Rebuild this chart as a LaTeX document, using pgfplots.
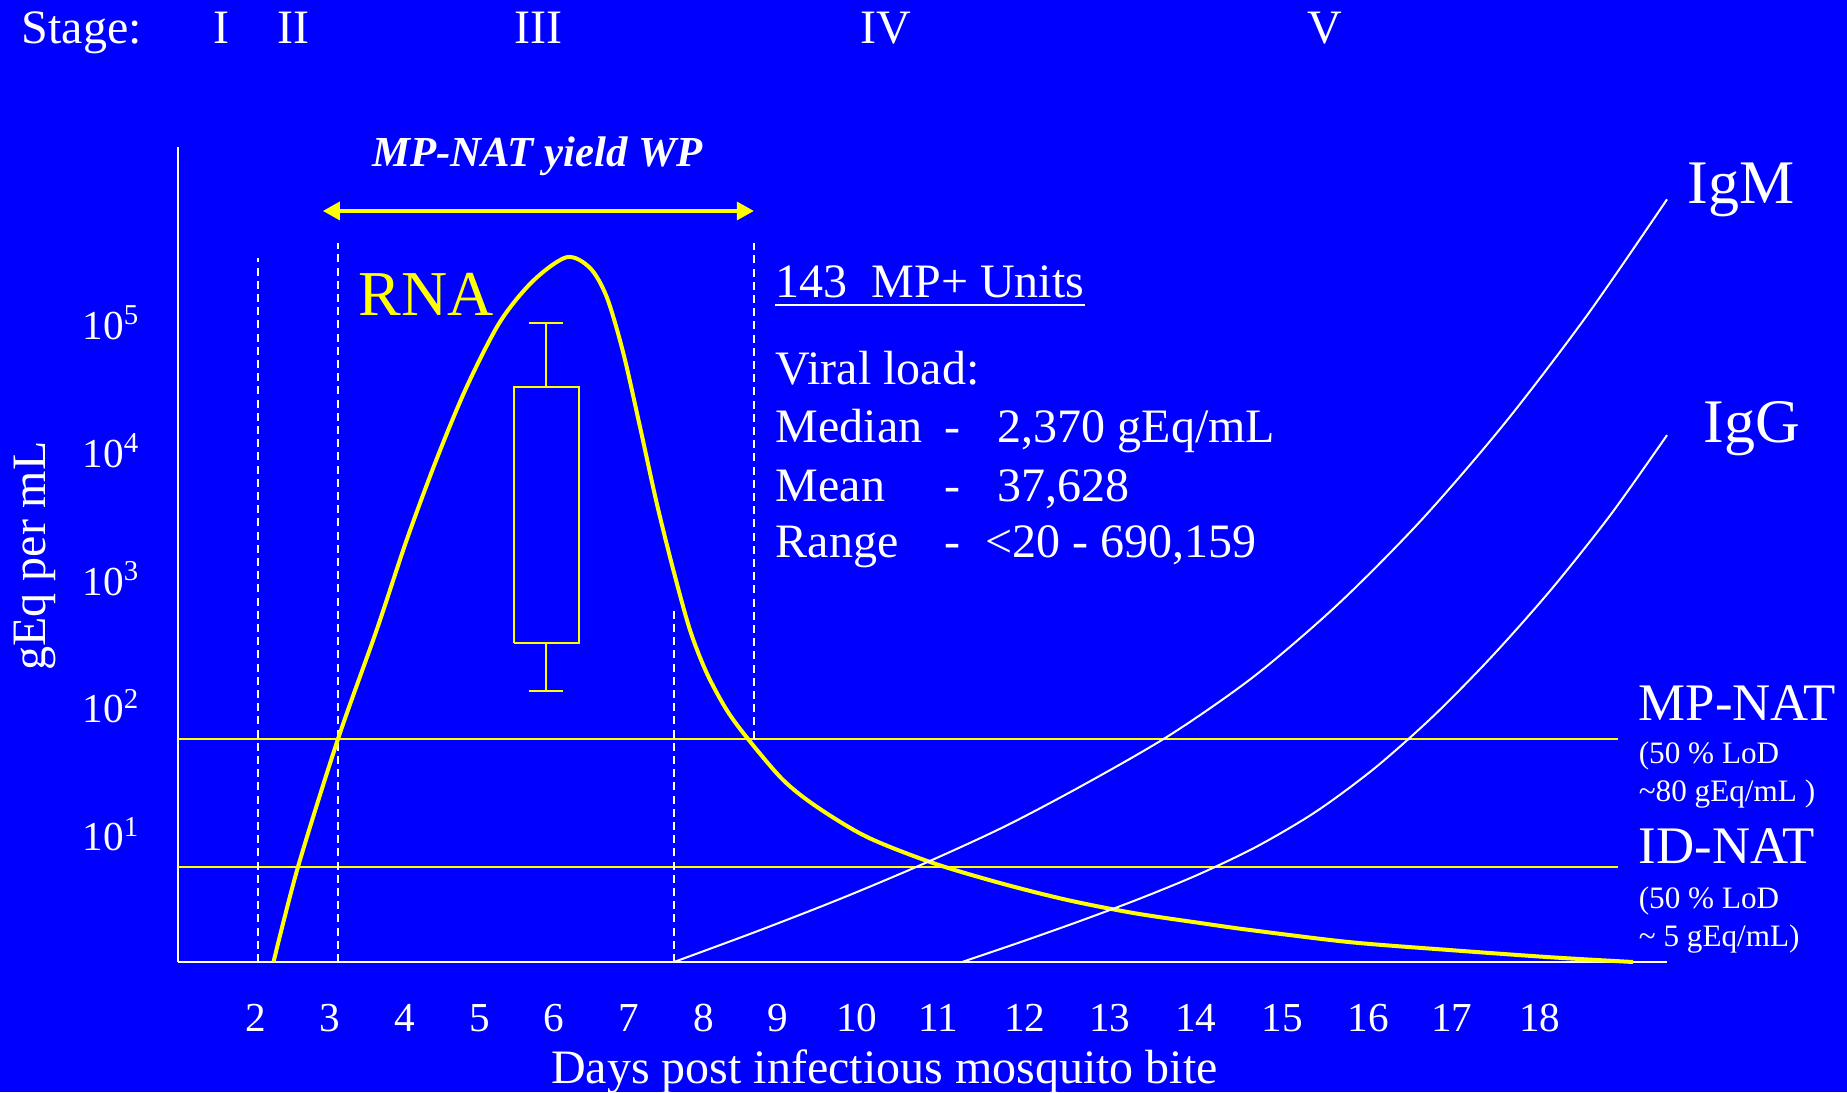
\documentclass[border=0pt]{standalone}
\usepackage{pgfplots}
\pgfplotsset{compat=1.18}
\usepackage{fontspec}
\setmainfont{Liberation Serif}
\usetikzlibrary{arrows.meta}
\definecolor{slidebg}{RGB}{0,0,255}
\definecolor{rnayellow}{RGB}{255,255,0}

\begin{document}
\begin{tikzpicture}
\fill[slidebg] (0,0) rectangle (461.75pt,273pt);
\begin{axis}[
  at={(44.5pt,32.5pt)}, anchor=south west,
  scale only axis, width=372.25pt, height=203.75pt,
  xmin=0.961, xmax=20.904,
  ymode=log, log basis y=10, ymin=1, ymax=2.38e6,
  axis x line*=bottom, axis y line*=left,
  axis line style={-, white, line width=0.7pt},
  xtick={2,3,4,5,6,7,8,9,10.05,11.14,12.3,13.44,14.59,15.75,16.9,18.02,19.2},
  xticklabels={2,3,4,5,6,7,8,9,10,11,12,13,14,15,16,17,18},
  ytick={10,100,1000,10000,100000},
  yticklabels={10\textsuperscript{1},10\textsuperscript{2},10\textsuperscript{3},10\textsuperscript{4},10\textsuperscript{5}},
  minor ytick={}, minor xtick={},
  major tick length=0pt, minor tick length=0pt,
  xtick style={draw=none}, ytick style={draw=none},
  tick label style={font=\fontsize{10.3}{12}\selectfont, text=white, inner sep=0pt},
  xticklabel style={anchor=base, yshift=-17.4pt},
  yticklabel style={anchor=east, xshift=-9.25pt},
  clip=false,
]
% detection limits of the two assays
\addplot[rnayellow, line width=0.5pt] coordinates {(0.961,56) (20.248,56)};
\addplot[rnayellow, line width=0.5pt] coordinates {(0.961,5.5) (20.248,5.5)};

% stage boundaries
\addplot[white, line width=0.5pt, dash pattern=on 2pt off 1.3pt] coordinates {(2.032,1) (2.032,322800)};
\addplot[white, line width=0.5pt, dash pattern=on 2pt off 1.3pt] coordinates {(3.104,1) (3.104,422700)};
\addplot[white, line width=0.5pt, dash pattern=on 2pt off 1.3pt] coordinates {(8.676,56) (8.676,422700)};
\addplot[white, line width=0.5pt, dash pattern=on 2pt off 1.3pt] coordinates {(7.604,1) (7.604,568)};

% viral load box and whiskers
\addplot[rnayellow, line width=0.5pt] coordinates {(5.461,313) (6.328,313) (6.328,31570) (5.461,31570) (5.461,313)};
\addplot[rnayellow, line width=0.5pt] coordinates {(5.890,31570) (5.890,100000)};
\addplot[rnayellow, line width=0.5pt] coordinates {(5.662,100000) (6.118,100000)};
\addplot[rnayellow, line width=0.5pt] coordinates {(5.890,313) (5.890,132)};
\addplot[rnayellow, line width=0.5pt] coordinates {(5.662,132) (6.118,132)};

% RNA
\addplot[rnayellow, line width=1pt, smooth] coordinates {
 (2.240,1) (2.568,5.54) (3.104,55.6) (3.622,396) (4.024,2005) (4.426,8630)
 (4.827,31570) (5.273,101800) (5.716,213100) (6.167,326700) (6.479,269300)
 (6.703,159700) (6.925,58210) (7.149,15350) (7.372,3905) (7.595,1168)
 (7.818,396) (8.042,182.6) (8.310,93.7) (8.595,55.6) (9.064,26.6) (9.515,16.4)
 (10.189,9.51) (11.073,5.95) (11.970,4.15) (12.868,3.06) (13.752,2.42)
 (14.649,2.02) (15.319,1.78) (16.658,1.43) (17.998,1.24) (19.337,1.09) (20.449,1)};

% IgM
\addplot[white, line width=0.5pt, smooth] coordinates {
 (7.604,1) (8.716,1.739) (9.828,3.116) (10.939,5.846) (12.051,11.63)
 (13.163,25.70) (14.274,61.15) (15.386,174.2) (16.498,630.5) (17.610,2853)
 (18.721,16180) (19.833,114700) (20.904,926900)};

% IgG
\addplot[white, line width=0.5pt, smooth] coordinates {
 (11.461,1) (12.252,1.436) (13.042,2.093) (13.832,3.116) (14.622,4.822)
 (15.413,8.026) (16.203,15.03) (16.993,33.02) (17.784,85.04) (18.574,251.5)
 (19.364,836.9) (20.154,3191) (20.904,13250)};

% window period arrow
\draw[rnayellow, line width=1.2pt,
  {Triangle[length=4.3pt,width=4.4pt]}-{Triangle[length=4.3pt,width=4.4pt]}]
  (axis cs:2.899,751600) -- (axis cs:8.676,751600);
\end{axis}

\begin{scope}[x=0.25pt, y=-0.25pt, yshift=273pt,
  every node/.style={inner sep=0pt, text=white, font=\fontsize{12}{14}\selectfont}]
  % stages
  \node[anchor=base west] at (21,43.6) {Stage:};
  \node[anchor=base] at (221.5,43.6) {I};
  \node[anchor=base] at (293,43.6) {II};
  \node[anchor=base] at (538,43.6) {III};
  \node[anchor=base] at (886,43.6) {IV};
  \node[anchor=base] at (1325,43.6) {V};
  % axis titles
  \node[rotate=90] at (35,556) {gEq per mL};
  \node[anchor=base] at (884.5,1083) {Days post infectious mosquito bite};
  % window period
  \node[anchor=base, font=\fontsize{10.7}{12}\selectfont\bfseries\itshape] at (537.5,166.7) {MP-NAT yield WP};
  \node[anchor=base west, text=rnayellow, font=\fontsize{16}{18}\selectfont] at (358,316) {RNA};
  % viral load summary
  \node[anchor=base west] (units) at (775,298) {143\ \ MP+ Units};
  \draw[white, line width=0.5pt] ([yshift=-1.75pt]units.base west) -- ([yshift=-1.75pt]units.base east);
  \node[anchor=base west] at (775,385) {Viral load:};
  \node[anchor=base west] at (775,443) {Median};
  \node[anchor=base west] at (775,502) {Mean};
  \node[anchor=base west] at (775,558) {Range};
  \node[anchor=base] at (952,443) {-};
  \node[anchor=base] at (952,502) {-};
  \node[anchor=base] at (952,558) {-};
  \node[anchor=base west] at (997,443) {2,370 gEq/mL};
  \node[anchor=base west] at (997,502) {37,628};
  \node[anchor=base west] at (985,558) {<20 - 690,159};
  % antibodies
  \node[anchor=base west, font=\fontsize{15.5}{18}\selectfont] at (1687,204) {IgM};
  \node[anchor=base west, font=\fontsize{15.5}{18}\selectfont] at (1703,443) {IgG};
  % assay labels
  \node[anchor=base west, font=\fontsize{13.2}{15}\selectfont] at (1638,720) {MP-NAT};
  \node[anchor=base west, font=\fontsize{7.8}{9}\selectfont] at (1638,763.3) {(50 \% LoD};
  \node[anchor=base west, font=\fontsize{7.8}{9}\selectfont] at (1638,801.7) {\textasciitilde80 gEq/mL )};
  \node[anchor=base west, font=\fontsize{13.2}{15}\selectfont] at (1638,863.3) {ID-NAT};
  \node[anchor=base west, font=\fontsize{7.8}{9}\selectfont] at (1638,908.3) {(50 \% LoD};
  \node[anchor=base west, font=\fontsize{7.8}{9}\selectfont] at (1638,946.7) {\textasciitilde\ 5 gEq/mL)};
\end{scope}

\pgfresetboundingbox
\path[use as bounding box] (0,0) rectangle (461.75pt,273pt);
\end{tikzpicture}
\end{document}
